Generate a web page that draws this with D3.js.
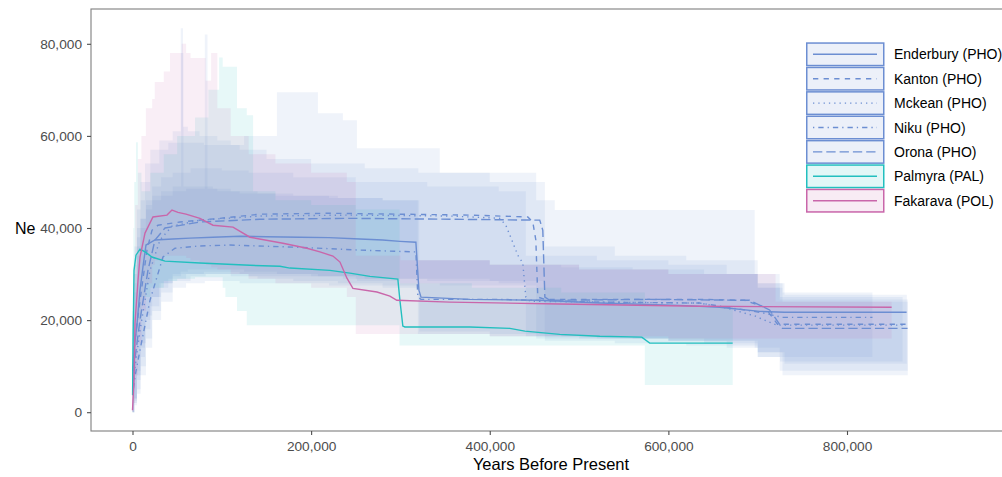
<!DOCTYPE html>
<html>
<head>
<meta charset="utf-8">
<script src="https://cdn.jsdelivr.net/npm/d3@7"></script>
<style>
  html, body { margin: 0; padding: 0; background: #ffffff; }
  svg { display: block; font-family: "Liberation Sans", Arial, Helvetica, sans-serif; }
</style>
</head>
<body>
<svg id="chart" width="1002" height="477"></svg>
<script>
// ---- Ne through time (median and confidence band per population) ----

const xTicks = [0, 200000, 400000, 600000, 800000];
const yTicks = [0, 20000, 40000, 60000, 80000];

const seriesNames = ["Enderbury (PHO)", "Kanton (PHO)", "Mckean (PHO)", "Niku (PHO)", "Orona (PHO)", "Palmyra (PAL)", "Fakarava (POL)"];

// Enderbury (PHO)
const enderburyYears = [300, 2000, 5000, 8400, 12000, 15100, 25200, 45000, 64300, 90000, 120300, 150000, 187500, 220000, 254600, 280000, 299400, 317300, 320700, 323000, 377700, 456000, 523200, 612700, 657500, 702300, 730000, 866700];
const enderburyNe = [8000, 14000, 19000, 26500, 32000, 36300, 37400, 37600, 37800, 38000, 38200, 38100, 38000, 37900, 37600, 37400, 37100, 36900, 26500, 25000, 24500, 24300, 23700, 23200, 22800, 21900, 21700, 21700];
const enderburyBandYears = [0, 2000, 5000, 9000, 15000, 22000, 32000, 45000, 54500, 57000, 70000, 90000, 110000, 140000, 180000, 230000, 280000, 321000, 400000, 480000, 560000, 640000, 700000, 730000, 867000];
const enderburyLo = [0, 3000, 9000, 15000, 21000, 25000, 28000, 29500, 30000, 30000, 30000, 30000, 29500, 29000, 28500, 28000, 27500, 17500, 17000, 16500, 16000, 15000, 13000, 10500, 10500];
const enderburyHi = [20000, 30000, 38000, 42000, 45000, 47000, 48000, 49000, 78000, 49000, 49000, 48500, 48000, 47500, 47000, 46500, 46000, 33000, 32000, 31500, 31000, 30000, 28000, 25500, 25500];

// Kanton (PHO)
const kantonYears = [300, 3000, 8400, 16200, 21800, 28500, 53200, 97900, 142700, 221000, 299400, 377700, 442600, 448200, 451600, 453800, 461700, 523200, 635100, 685400, 707800, 722300, 867800];
const kantonNe = [9000, 16000, 24300, 35200, 39500, 40600, 41300, 42100, 43000, 43200, 43000, 42800, 42400, 41300, 37400, 25000, 24500, 24500, 24500, 24300, 22800, 19100, 19100];
const kantonBandYears = [0, 2000, 5000, 9000, 14000, 20000, 30000, 45000, 54000, 56500, 62000, 75000, 95000, 110000, 125000, 161700, 207600, 235600, 251300, 299400, 344000, 452000, 472800, 600000, 696600, 724600, 868000];
const kantonLo = [0, 3000, 8000, 14000, 20000, 25000, 28000, 30000, 30500, 30500, 31000, 31000, 31000, 31000, 30500, 30000, 29500, 29000, 28500, 28000, 27500, 16000, 16000, 15500, 14000, 9000, 9000];
const kantonHi = [22000, 36000, 44000, 50000, 54000, 57000, 59000, 61000, 83400, 62000, 61000, 60000, 59000, 58000, 60000, 69500, 64900, 63400, 57300, 57300, 52000, 46000, 43900, 43900, 30000, 24500, 24500];

// Mckean (PHO)
const mckeanYears = [300, 3000, 8400, 19600, 30800, 44200, 75500, 142700, 243400, 355300, 411300, 418000, 424700, 431400, 437000, 440400, 444900, 523200, 635100, 665300, 696700, 721300, 862200];
const mckeanNe = [5000, 10000, 17800, 30800, 37400, 40400, 41700, 42600, 42800, 42600, 42100, 40600, 37400, 34100, 32400, 25000, 24100, 23900, 23700, 22600, 20900, 18900, 18900];
const mckeanBandYears = [0, 2000, 5000, 9000, 15000, 22000, 32000, 45000, 65000, 82000, 100000, 130000, 180000, 250000, 330000, 410000, 440400, 520000, 600000, 665300, 700000, 725000, 862200];
const mckeanLo = [0, 2000, 5000, 10000, 16000, 22000, 26000, 28500, 29500, 30000, 30000, 29500, 29500, 29000, 28500, 28000, 16500, 16000, 15500, 14000, 12000, 11000, 11000];
const mckeanHi = [18000, 28000, 36000, 42000, 46000, 49000, 51000, 52000, 53000, 53000, 52500, 52000, 51000, 50000, 49000, 48000, 34000, 33000, 32000, 30000, 27000, 25000, 25000];

// Niku (PHO)
const nikuYears = [300, 3000, 8400, 19600, 34100, 47600, 75500, 109100, 187500, 254600, 317300, 319500, 323000, 411300, 523200, 635100, 702300, 727800, 828500];
const nikuNe = [4000, 8000, 13500, 24300, 33700, 35600, 36100, 36300, 35800, 35200, 34800, 25000, 24500, 24500, 23900, 23700, 21700, 20600, 20600];
const nikuBandYears = [0, 2000, 5000, 9000, 15000, 22000, 32000, 45000, 60000, 81000, 84000, 95000, 120000, 160000, 220000, 280000, 319500, 400000, 500000, 600000, 700000, 727800, 828500];
const nikuLo = [0, 1500, 4000, 8000, 14000, 20000, 24000, 27000, 28000, 28500, 28500, 28500, 28000, 28000, 27500, 27000, 17000, 16500, 16000, 15500, 13000, 12000, 12000];
const nikuHi = [16000, 26000, 34000, 40000, 44000, 46000, 47000, 48000, 48500, 82000, 48500, 48000, 47500, 47000, 46500, 46000, 33000, 32000, 31000, 30000, 27000, 26000, 26000];

// Orona (PHO)
const oronaYears = [300, 3000, 8400, 17300, 25200, 36400, 75500, 142700, 243400, 355300, 456000, 459400, 461700, 467300, 579100, 690900, 713300, 727800, 867800];
const oronaNe = [6000, 12000, 20000, 30800, 37400, 40000, 41300, 41900, 42100, 41900, 41700, 39500, 25000, 24300, 24500, 24300, 22200, 18200, 18200];
const oronaBandYears = [0, 2000, 5000, 9000, 14000, 20000, 30000, 40000, 60000, 80000, 100000, 120000, 150000, 200000, 260000, 320000, 400000, 461700, 540000, 620000, 700000, 727800, 868000];
const oronaLo = [0, 2500, 7000, 12000, 18000, 23000, 27000, 29000, 30000, 30500, 30500, 30000, 30000, 29500, 29000, 29000, 28500, 15500, 15000, 14500, 12000, 8000, 8000];
const oronaHi = [20000, 32000, 40000, 46000, 50000, 54000, 57000, 58500, 58500, 58000, 58000, 57000, 55000, 54000, 53000, 52000, 50000, 36000, 34000, 33000, 28000, 24000, 24000];

// Palmyra (PAL)
const palmyraYears = [100, 800, 1700, 3900, 8400, 14000, 21800, 36400, 75500, 131500, 165100, 176300, 221000, 243400, 265800, 297100, 299400, 302700, 305000, 377700, 422500, 439300, 478400, 523200, 570200, 579100, 672000];
const palmyraNe = [3700, 17800, 30800, 34100, 35400, 34800, 33700, 32800, 32400, 31900, 31700, 31300, 30800, 30200, 29500, 28900, 24300, 18700, 18500, 18500, 18200, 17600, 16900, 16500, 16300, 15000, 15000];
const palmyraBandYears = [0, 1000, 2000, 4000, 6000, 10000, 20000, 35000, 50000, 70000, 85000, 97000, 101000, 104000, 117000, 128000, 135000, 160000, 200000, 250000, 299000, 380000, 480000, 573600, 672000];
const palmyraLo = [0, 2000, 8000, 15000, 20000, 25000, 27000, 28500, 29000, 29300, 29300, 29300, 27000, 25000, 22000, 18900, 18900, 18900, 18900, 18900, 14500, 14500, 14500, 5900, 5900];
const palmyraHi = [12000, 40000, 50000, 58600, 52000, 48000, 52000, 56000, 60000, 64000, 70000, 77000, 75000, 75000, 66000, 64500, 48000, 46000, 45000, 44000, 28000, 27000, 26000, 23000, 23000];

// Fakarava (POL)
const fakaravaYears = [0, 1700, 2800, 6200, 8400, 14000, 22900, 38600, 44200, 50900, 59900, 75500, 90100, 112500, 131500, 168400, 195300, 209800, 224400, 232300, 240100, 246800, 273700, 288200, 296000, 355300, 478400, 635100, 850000];
const fakaravaNe = [430, 7000, 19300, 28700, 33700, 38900, 42400, 42800, 43900, 43400, 43000, 42100, 40600, 40200, 38000, 36700, 35600, 34800, 33900, 32600, 29100, 26900, 26100, 25200, 24300, 23900, 23500, 23000, 22800];
const fakaravaBandYears = [0, 1500, 3000, 6000, 10000, 15000, 22000, 25000, 35000, 42000, 50000, 55000, 60000, 65000, 75000, 82000, 88000, 95000, 110000, 130000, 160000, 200000, 240000, 250000, 300000, 400000, 500000, 600000, 720000, 850000];
const fakaravaLo = [0, 2000, 8000, 15000, 22000, 28000, 32000, 33000, 34000, 34000, 34000, 34000, 33500, 33000, 32500, 32000, 31500, 31000, 30000, 29000, 28000, 27000, 25000, 17000, 17000, 16500, 16500, 16000, 16000, 16000];
const fakaravaHi = [8000, 30000, 45000, 55000, 60000, 66000, 68000, 71700, 74000, 78000, 78000, 80000, 78000, 76900, 76900, 72000, 78000, 66000, 60000, 56000, 54000, 52000, 50000, 34000, 33000, 32000, 31000, 30000, 24000, 24000];

// ---- styling ----
const blue = "#6c8ed2", teal = "#22bfbf", pink = "#c966aa";
const seriesColors = [blue, blue, blue, blue, blue, teal, pink];
const seriesDashes = [null, "5.3,5.3", "1.3,4", "1.3,4,5.3,4", "9.3,4", null, null];

const series = [
  { years: enderburyYears, ne: enderburyNe, bY: enderburyBandYears, lo: enderburyLo, hi: enderburyHi },
  { years: kantonYears, ne: kantonNe, bY: kantonBandYears, lo: kantonLo, hi: kantonHi },
  { years: mckeanYears, ne: mckeanNe, bY: mckeanBandYears, lo: mckeanLo, hi: mckeanHi },
  { years: nikuYears, ne: nikuNe, bY: nikuBandYears, lo: nikuLo, hi: nikuHi },
  { years: oronaYears, ne: oronaNe, bY: oronaBandYears, lo: oronaLo, hi: oronaHi },
  { years: palmyraYears, ne: palmyraNe, bY: palmyraBandYears, lo: palmyraLo, hi: palmyraHi },
  { years: fakaravaYears, ne: fakaravaNe, bY: fakaravaBandYears, lo: fakaravaLo, hi: fakaravaHi }
].map((s, i) => ({
  name: seriesNames[i],
  color: seriesColors[i],
  dash: seriesDashes[i],
  line: s.years.map((t, j) => ({ t, v: s.ne[j] })),
  band: s.bY.map((t, j) => ({ t, lo: s.lo[j], hi: s.hi[j] }))
}));

// ---- layout ----
const svg = d3.select("#chart");
const panel = { left: 91, top: 9, right: 1011, bottom: 431 };

const x = d3.scaleLinear().domain([0, 800000]).range([132.5, 847]);
const y = d3.scaleLinear().domain([0, 80000]).range([412.2, 43.8]);

svg.append("defs").append("clipPath").attr("id", "panel-clip")
  .append("rect")
  .attr("x", panel.left).attr("y", panel.top)
  .attr("width", panel.right - panel.left).attr("height", panel.bottom - panel.top);

const plot = svg.append("g").attr("clip-path", "url(#panel-clip)");

const area = d3.area()
  .x(d => x(d.t)).y0(d => y(d.lo)).y1(d => y(d.hi))
  .curve(d3.curveStepAfter);

const line = d3.line()
  .x(d => x(d.t)).y(d => y(d.v));

// confidence bands
plot.append("g").selectAll("path")
  .data(series).join("path")
  .attr("d", d => area(d.band))
  .attr("fill", d => d.color)
  .attr("fill-opacity", 0.11)
  .attr("stroke", "none");

// median trajectories
plot.append("g").selectAll("path")
  .data(series).join("path")
  .attr("d", d => line(d.line))
  .attr("fill", "none")
  .attr("stroke", d => d.color)
  .attr("stroke-width", 1.4)
  .attr("stroke-dasharray", d => d.dash);

// panel border
svg.append("rect")
  .attr("x", panel.left).attr("y", panel.top)
  .attr("width", panel.right - panel.left).attr("height", panel.bottom - panel.top)
  .attr("fill", "none").attr("stroke", "#7f7f7f").attr("stroke-width", 1.1);

// axes
const yAxis = svg.append("g")
  .attr("transform", `translate(${panel.left},0)`)
  .call(d3.axisLeft(y).tickValues(yTicks).tickFormat(d3.format(",")).tickSize(4).tickPadding(5));
const xAxis = svg.append("g")
  .attr("transform", `translate(0,${panel.bottom})`)
  .call(d3.axisBottom(x).tickValues(xTicks).tickFormat(d3.format(",")).tickSize(4).tickPadding(6));

[yAxis, xAxis].forEach(g => {
  g.select(".domain").remove();
  g.selectAll(".tick line").attr("stroke", "#4d4d4d").attr("stroke-width", 1.1);
  g.selectAll(".tick text")
    .attr("fill", "#4d4d4d")
    .style("font-size", "13.7px")
    .style("font-family", "'Liberation Sans', Arial, sans-serif");
});

// axis titles
svg.append("text")
  .attr("x", 551).attr("y", 470)
  .attr("text-anchor", "middle")
  .style("font-size", "16.5px")
  .attr("fill", "#000")
  .text("Years Before Present");

svg.append("text")
  .attr("x", 15).attr("y", 234)
  .style("font-size", "16px")
  .attr("fill", "#000")
  .text("Ne");

// legend
const legend = svg.append("g").attr("transform", "translate(806,42.3)");
const rowH = 24.4;
const rows = legend.selectAll("g").data(series).join("g")
  .attr("transform", (d, i) => `translate(0,${i * rowH})`);

rows.append("rect")
  .attr("x", 0.75).attr("y", 0.75).attr("width", 77).attr("height", 22.5)
  .attr("fill", "#fff")
  .attr("stroke", "none");
rows.append("rect")
  .attr("x", 0.75).attr("y", 0.75).attr("width", 77).attr("height", 22.5)
  .attr("fill", d => d.color).attr("fill-opacity", 0.13)
  .attr("stroke", d => d.color).attr("stroke-width", 1.5);
rows.append("line")
  .attr("x1", 7).attr("x2", 71).attr("y1", 12).attr("y2", 12)
  .attr("stroke", d => d.color).attr("stroke-width", 1.4)
  .attr("stroke-dasharray", d => d.dash);
rows.append("text")
  .attr("x", 88).attr("y", 17)
  .style("font-size", "14px")
  .attr("fill", "#000")
  .text(d => d.name);
</script>
</body>
</html>
